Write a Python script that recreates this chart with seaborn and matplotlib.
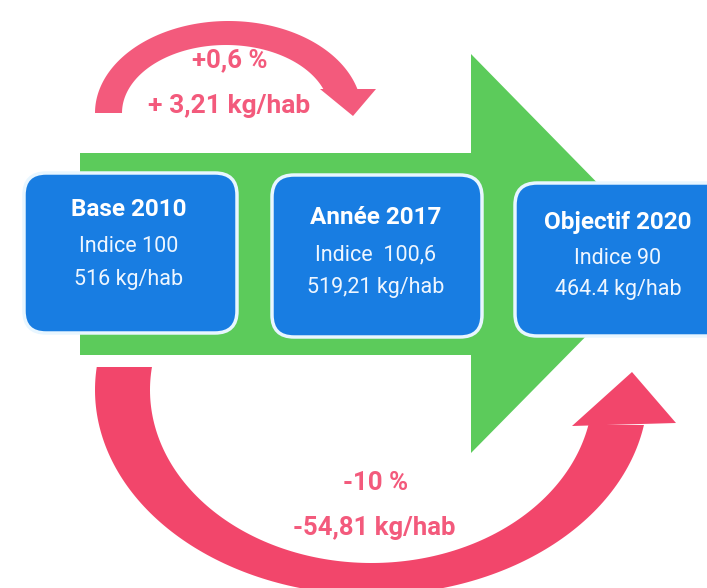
#!/usr/bin/env python
"""Waste per inhabitant: base 2010 -> 2017 -> 2020 target, as an arrow diagram."""
import numpy as np
import matplotlib.pyplot as plt
import seaborn as sns
from matplotlib.patches import Polygon, FancyBboxPatch

# --- data ------------------------------------------------------------------
steps = ["Base 2010", "Année 2017", "Objectif 2020"]
indices = ["Indice 100", "Indice  100,6", "Indice 90"]
amounts = ["516 kg/hab", "519,21 kg/hab", "464.4 kg/hab"]
change_2017 = ["+0,6 %", "+ 3,21 kg/hab"]
change_2020 = ["-10 %", "-54,81 kg/hab"]

# --- style -----------------------------------------------------------------
sns.set_theme(style="white")
plt.rcParams["font.family"] = ["Roboto", "DejaVu Sans"]

GREEN = "#5ccb5b"
BLUE = "#187de2"
PINK = "#f35a7c"
RED = "#f2466b"

W, H = 707, 588
fig = plt.figure(figsize=(W / 100, H / 100), dpi=100)
ax = fig.add_axes([0, 0, 1, 1])
ax.set_xlim(0, W)
ax.set_ylim(H, 0)
ax.axis("off")

# big green arrow
green = [(80, 153), (471, 153), (471, 54), (667, 254), (471, 453), (471, 355), (80, 355)]
ax.add_patch(Polygon(green, closed=True, facecolor=GREEN, edgecolor="none", zorder=1))

# top arc (+0,6 %)
cy_top = 113
t = np.linspace(-np.pi, -np.arcsin(23 / 92), 120)
outer = list(zip(228.5 + 133.5 * np.cos(t), cy_top + 92 * np.sin(t)))
t = np.linspace(-np.pi, -np.arcsin(23 / 68), 120)
inner = list(zip(226 + 104 * np.cos(t), cy_top + 68 * np.sin(t)))
ax.add_patch(Polygon(outer + inner[::-1], closed=True, facecolor=PINK, edgecolor="none", zorder=3))
ax.add_patch(Polygon([(320, 89), (376, 89), (353, 116)], closed=True,
                     facecolor=PINK, edgecolor="none", zorder=3))

# bottom arc (-10 %)
cy_bot = 390
t = np.linspace(np.pi + np.arcsin(23 / 205), np.arcsin(35 / 205), 160)
outer = list(zip(371.5 + 276.5 * np.cos(t), cy_bot + 205 * np.sin(t)))
t = np.linspace(np.pi + np.arcsin(23 / 173), np.arcsin(35 / 173), 160)
inner = list(zip(371.5 + 221.5 * np.cos(t), cy_bot + 173 * np.sin(t)))
ax.add_patch(Polygon(outer + inner[::-1], closed=True, facecolor=RED, edgecolor="none", zorder=3))
ax.add_patch(Polygon([(572, 426), (676, 423), (632, 372)], closed=True,
                     facecolor=RED, edgecolor="none", zorder=3))

# blue boxes
boxes = [(24, 173, 213, 160), (272, 175, 210, 162), (515, 183, 215, 153)]
centers = [(129, 209, 246, 279), (376, 218, 255, 288), (618, 222, 259, 290)]
for (x, y, w, h), (cx, y1, y2, y3), title, idx, amt in zip(boxes, centers, steps, indices, amounts):
    ax.add_patch(FancyBboxPatch((x, y), w, h, boxstyle="round,pad=0,rounding_size=22",
                                facecolor=BLUE, edgecolor="#e8f6ff", linewidth=2.5, zorder=4))
    ax.text(cx, y1, title, color="white", fontsize=17.5, fontweight="bold",
            ha="center", va="center", zorder=5)
    ax.text(cx, y2, idx, color="#eef6ff", fontsize=15.5, ha="center", va="center", zorder=5)
    ax.text(cx, y3, amt, color="#eef6ff", fontsize=15.5, ha="center", va="center", zorder=5)

# change labels
ax.text(230, 60, change_2017[0], color=PINK, fontsize=18.5, fontweight="bold", ha="center", va="center")
ax.text(229, 106, change_2017[1], color=PINK, fontsize=19, fontweight="bold", ha="center", va="center")
ax.text(376, 483, change_2020[0], color=PINK, fontsize=18.5, fontweight="bold", ha="center", va="center")
ax.text(374, 528, change_2020[1], color=PINK, fontsize=18.5, fontweight="bold", ha="center", va="center")

fig.savefig("out.png", dpi=100, facecolor="white")
plt.close(fig)
